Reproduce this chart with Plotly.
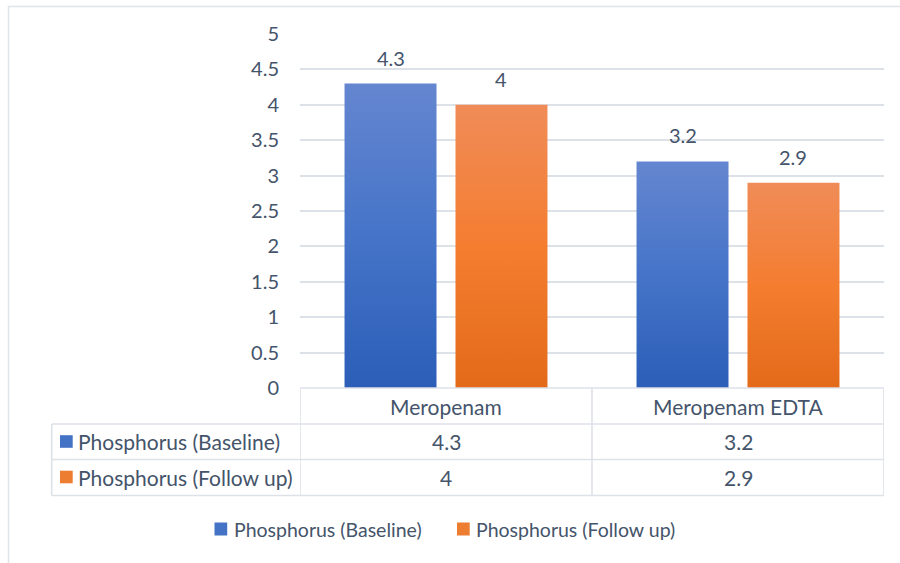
import plotly.graph_objects as go

# ---- data ----
categories = ["Meropenam", "Meropenam EDTA"]
series_names = ["Phosphorus (Baseline)", "Phosphorus (Follow up)"]
baseline = [4.3, 3.2]
follow_up = [4.0, 2.9]
y_ticks = [0, 0.5, 1, 1.5, 2, 2.5, 3, 3.5, 4, 4.5, 5]

# ---- styling ----
FONT = "Lato"
TEXT = "#44546a"
GRID = "#dde1e8"
FS_AXIS = 20
FS_TABLE = 21
FS_LEGEND = 19.5
W, H = 900, 563
L, R, T, B = 300, 16, 34, 175
PW, PH = W - L - R, H - T - B

series = [baseline, follow_up]
swatch = ["#4472c4", "#ed7d31"]
gradients = [
    [[0, "#2c5eb8"], [0.5, "#4574c8"], [1, "#6586d0"]],
    [[0, "#e36a19"], [0.5, "#f47d30"], [1, "#f08c58"]],
]
BAR_W = 0.315
OFFSETS = [-0.19, 0.19]


def px(x):
    return (x - L) / PW


def py(y):
    return (T + PH - y) / PH


def font(size):
    return dict(family=FONT, size=size, color=TEXT)


fig = go.Figure()

# bars drawn as filled shapes so each one gets its own vertical gradient
for s, vals in enumerate(series):
    for i, v in enumerate(vals):
        c = i + OFFSETS[s]
        x0, x1 = c - BAR_W / 2, c + BAR_W / 2
        fig.add_trace(go.Scatter(
            x=[x0, x0, x1, x1, x0], y=[0, v, v, 0, 0],
            mode="lines", fill="toself", line=dict(width=0),
            fillgradient=dict(type="vertical", colorscale=gradients[s], start=0, stop=v),
            hoverinfo="skip", showlegend=False,
        ))
        fig.add_annotation(x=c, y=v, xref="x", yref="y", text=f"{v:g}",
                           showarrow=False, yanchor="bottom", yshift=12,
                           font=font(FS_AXIS))

shapes = []
line = dict(color=GRID, width=1.6)

# chart border
shapes.append(dict(type="rect", xref="paper", yref="paper",
                   x0=px(8.5), x1=px(905), y0=py(570), y1=py(6.5),
                   line=dict(color="#dfe3ea", width=1.5), layer="below"))

# data table grid
row_y = [388, 424, 459.5, 495.5]
for k, yv in enumerate(row_y):
    xstart = 300 if k == 0 else 51.7
    shapes.append(dict(type="line", xref="paper", yref="paper",
                       x0=px(xstart), x1=px(884), y0=py(yv), y1=py(yv), line=line))
shapes.append(dict(type="line", xref="paper", yref="paper",
                   x0=px(51.7), x1=px(51.7), y0=py(424), y1=py(495.5), line=line))
for xv in [-0.5, 0.5, 1.5]:
    shapes.append(dict(type="line", xref="x", yref="paper",
                       x0=xv, x1=xv, y0=py(388), y1=py(495.5), line=line))

# category headers
for i, cat in enumerate(categories):
    fig.add_annotation(x=i, y=py(406), xref="x", yref="paper", text=cat,
                       showarrow=False, yanchor="middle", font=font(FS_TABLE))

# table rows
row_centers = [441.5, 477]
for s, vals in enumerate(series):
    yc = row_centers[s]
    shapes.append(dict(type="rect", xref="paper", yref="paper",
                       x0=px(60), x1=px(72.7), y0=py(yc + 6.3), y1=py(yc - 6.3),
                       fillcolor=swatch[s], line=dict(width=0)))
    fig.add_annotation(x=px(76), y=py(yc), xref="paper", yref="paper",
                       text=series_names[s], xanchor="left", yanchor="middle",
                       showarrow=False, font=font(FS_TABLE))
    for i, v in enumerate(vals):
        fig.add_annotation(x=i, y=py(yc), xref="x", yref="paper", text=f"{v:g}",
                           showarrow=False, yanchor="middle", font=font(FS_TABLE))

# legend
leg_sq = [214.5, 457]
for s in range(2):
    shapes.append(dict(type="rect", xref="paper", yref="paper",
                       x0=px(leg_sq[s]), x1=px(leg_sq[s] + 12.7),
                       y0=py(535.5), y1=py(522.5),
                       fillcolor=swatch[s], line=dict(width=0)))
    fig.add_annotation(x=px(leg_sq[s] + 17), y=py(529), xref="paper", yref="paper",
                       text=series_names[s], xanchor="left", yanchor="middle",
                       showarrow=False, font=font(FS_LEGEND))

fig.update_layout(
    width=W, height=H, autosize=False,
    margin=dict(l=L, r=R, t=T, b=B),
    paper_bgcolor="white", plot_bgcolor="white",
    shapes=shapes, showlegend=False,
    xaxis=dict(range=[-0.5, 1.5], showticklabels=False, showgrid=False,
               zeroline=False, showline=False, fixedrange=True),
    yaxis=dict(range=[0, 5], tickvals=y_ticks, showgrid=True, gridcolor=GRID,
               gridwidth=1.6, zeroline=False, showline=False, ticks="",
               ticklabelstandoff=20,
               tickfont=font(FS_AXIS), fixedrange=True),
)

fig.write_html("out.html")
